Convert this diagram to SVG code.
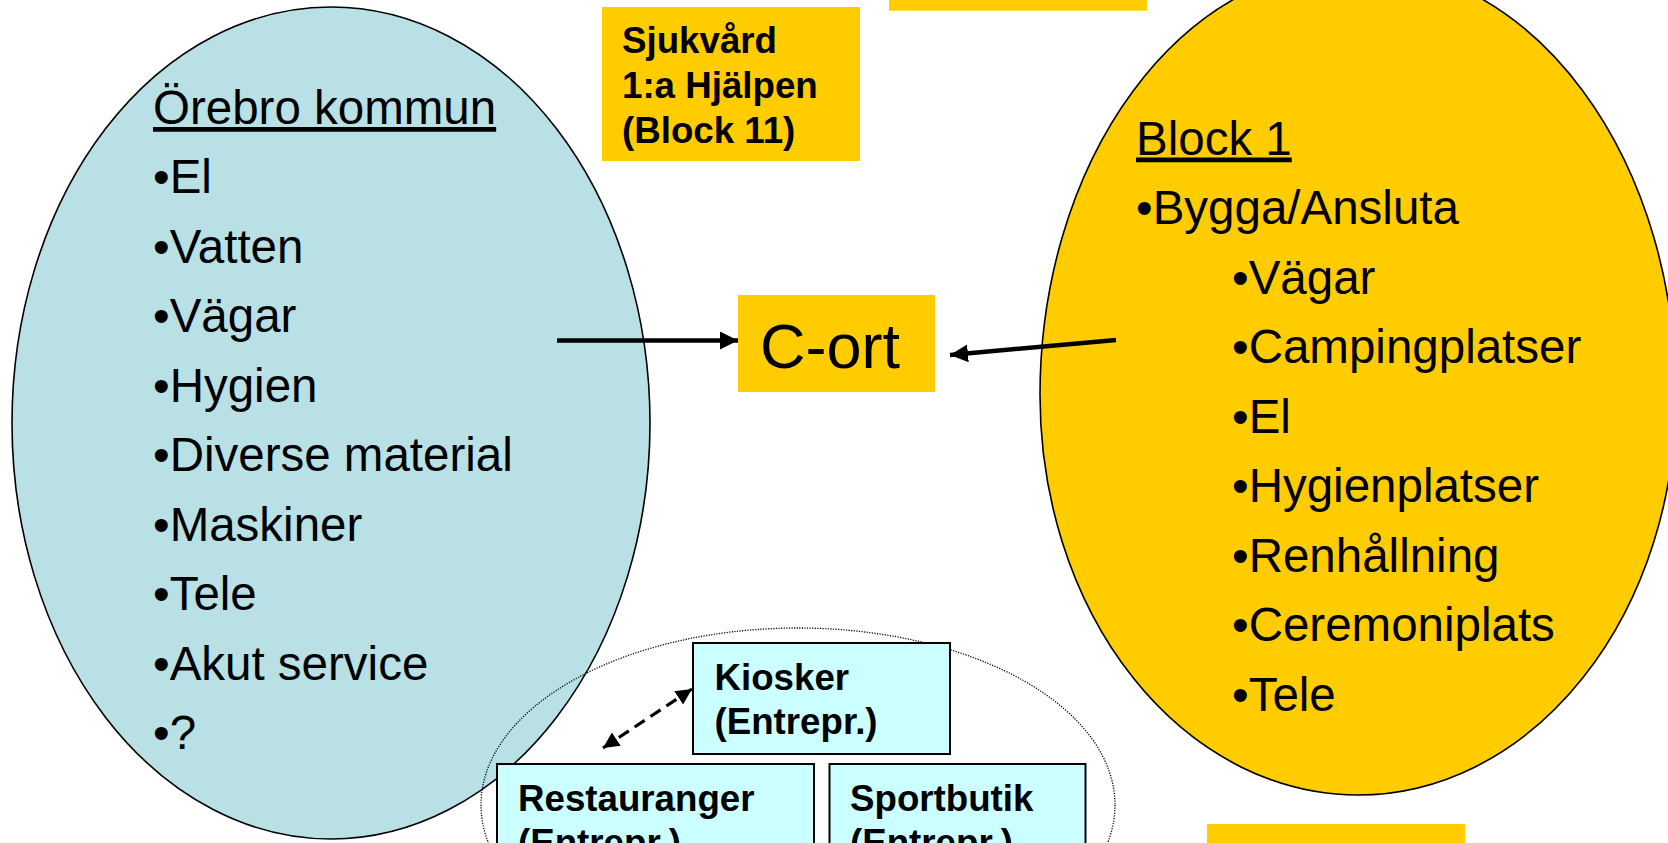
<svg xmlns="http://www.w3.org/2000/svg" width="1668" height="843" viewBox="0 0 1668 843">
  <style>
    .big { font-family: "Liberation Sans", Arial, sans-serif; font-size: 47.5px; fill: #000; }
    .bold { font-family: "Liberation Sans", Arial, sans-serif; font-size: 36.7px; font-weight: bold; fill: #000; }
    .yel { fill: #FFCC00; }
    .cyan { fill: #CCFFFF; stroke: #000; stroke-width: 2; }
    .conn { stroke: #000; stroke-width: 4.5; fill: none; }
    .dash { stroke: #000; stroke-width: 3.2; fill: none; stroke-dasharray: 12 7; }
  </style>
  <defs>
    <marker id="ah" markerUnits="userSpaceOnUse" markerWidth="20" markerHeight="20" refX="18" refY="9" orient="auto">
      <path d="M0,0 L18,9 L0,18 Z" fill="#000"/>
    </marker>
    <marker id="ahs" markerUnits="userSpaceOnUse" markerWidth="18" markerHeight="18" refX="16" refY="8" orient="auto-start-reverse">
      <path d="M0,0 L16,8 L0,16 Z" fill="#000"/>
    </marker>
  </defs>
  <rect width="1668" height="843" fill="#fff"/>

  <g id="orebro">
    <ellipse cx="331" cy="423" rx="319" ry="416" fill="#B9E0E4" stroke="#000" stroke-width="1.6"/>
    <text class="big" x="153" y="124" text-decoration="underline">Örebro kommun</text>
    <text class="big" x="153" y="193">•El</text>
    <text class="big" x="153" y="262.5">•Vatten</text>
    <text class="big" x="153" y="332">•Vägar</text>
    <text class="big" x="153" y="401.5">•Hygien</text>
    <text class="big" x="153" y="471">•Diverse material</text>
    <text class="big" x="153" y="540.5">•Maskiner</text>
    <text class="big" x="153" y="610">•Tele</text>
    <text class="big" x="153" y="679.5">•Akut service</text>
    <text class="big" x="153" y="749">•?</text>
  </g>

  <g id="block1">
    <path d="M1040,395 A318,430 0 0 1 1676,395 A318,400 0 0 1 1040,395 Z" class="yel" stroke="#000" stroke-width="1.6"/>
    <text class="big" x="1136" y="154.5" text-decoration="underline">Block 1</text>
    <text class="big" x="1136" y="224">•Bygga/Ansluta</text>
    <text class="big" x="1232" y="293.5">•Vägar</text>
    <text class="big" x="1232" y="363">•Campingplatser</text>
    <text class="big" x="1232" y="432.5">•El</text>
    <text class="big" x="1232" y="502">•Hygienplatser</text>
    <text class="big" x="1232" y="571.5">•Renhållning</text>
    <text class="big" x="1232" y="641">•Ceremoniplats</text>
    <text class="big" x="1232" y="710.5">•Tele</text>
  </g>

  <g id="sjukvard">
    <rect class="yel" x="602" y="7" width="258" height="154"/>
    <text class="bold" x="622" y="53">Sjukvård</text>
    <text class="bold" x="622" y="98">1:a Hjälpen</text>
    <text class="bold" x="622" y="142.5">(Block 11)</text>
  </g>

  <g id="top-box">
    <rect class="yel" x="889" y="-5" width="258" height="15.7"/>
  </g>

  <g id="bottom-box">
    <rect class="yel" x="1207" y="824" width="258" height="30"/>
  </g>

  <g id="cort">
    <rect class="yel" x="738" y="295" width="197" height="97"/>
    <text class="big" x="760" y="367.5" style="font-size:63px">C-ort</text>
  </g>

  <g id="entrepr-group">
    <ellipse cx="798" cy="805" rx="317" ry="177" fill="none" stroke="#000" stroke-width="1.3" stroke-dasharray="1.2 1.4"/>
  </g>

  <g id="kiosker">
    <rect class="cyan" x="693" y="643" width="257" height="111"/>
    <text class="bold" x="714.5" y="690">Kiosker</text>
    <text class="bold" x="714.5" y="734">(Entrepr.)</text>
  </g>

  <g id="restauranger">
    <rect class="cyan" x="497" y="764" width="317" height="110"/>
    <text class="bold" x="518" y="811">Restauranger</text>
    <text class="bold" x="518" y="855">(Entrepr.)</text>
  </g>

  <g id="sportbutik">
    <rect class="cyan" x="829.5" y="764" width="256" height="110"/>
    <text class="bold" x="850" y="811">Sportbutik</text>
    <text class="bold" x="850" y="855">(Entrepr.)</text>
  </g>

  <g id="connectors">
    <line class="conn" x1="557" y1="340.5" x2="738" y2="340.5" marker-end="url(#ah)"/>
    <line class="conn" x1="1116" y1="340" x2="950" y2="355" marker-end="url(#ah)"/>
    <line class="dash" x1="603" y1="748" x2="692" y2="689" marker-start="url(#ahs)" marker-end="url(#ahs)"/>
  </g>
</svg>
